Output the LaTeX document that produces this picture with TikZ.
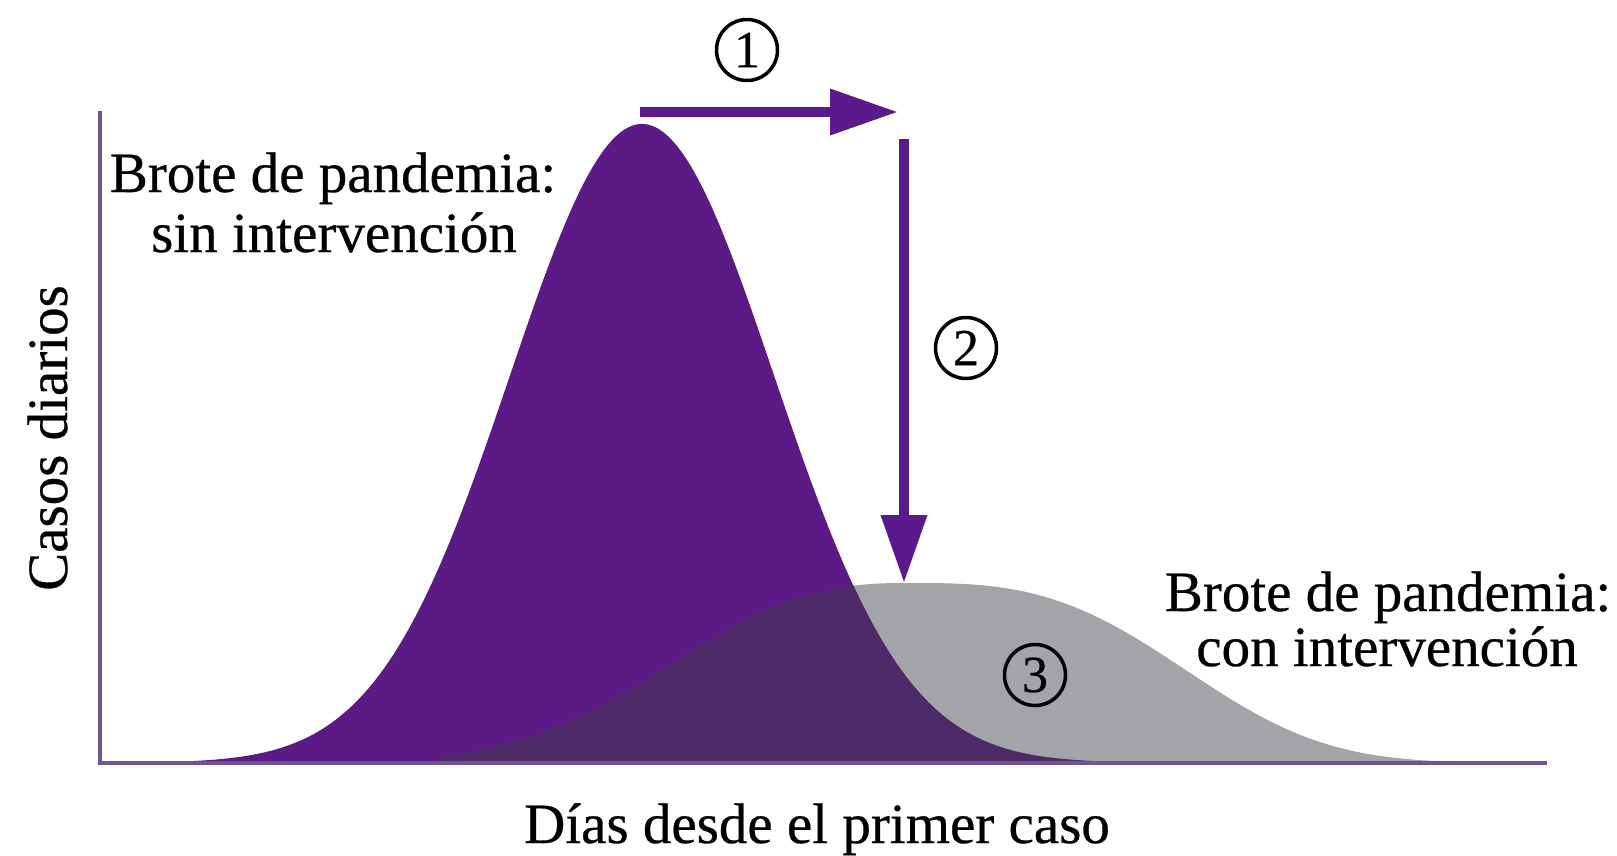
\documentclass[tikz,border=0pt]{standalone}
\usepackage{fontspec}
\setmainfont{Liberation Serif}
\newfontfamily\heavyserif{Liberation Serif}[FakeBold=0.5]
\usetikzlibrary{arrows.meta}
\definecolor{purfill}{HTML}{5B1A86}
\definecolor{purarrow}{HTML}{5A1A8C}
\definecolor{overlapc}{HTML}{4E2A68}
\definecolor{grayc}{HTML}{A2A4A8}
\definecolor{axisc}{HTML}{6E5490}
\newcommand\GrayShape{(440,763) -- plot[domain=440:907,samples=90] (\x,{763-180*exp(-((907-\x)/290)^2.5)}) -- plot[domain=907:1440,samples=90] (\x,{763-180*exp(-((\x-907)/320)^3)}) -- (1440,763) -- cycle}
\newcommand\PurpleShape{(150,763) -- plot[domain=150:1160,samples=220] (\x,{763-639*exp(-0.5*((\x-642)/132)^2)}) -- (1160,763) -- cycle}
\begin{document}
\begin{tikzpicture}[x=1pt,y=-1pt,
  lbl/.style={font=\heavyserif\fontsize{57}{60}\selectfont, text=black, inner sep=0pt},
  num/.style={circle, draw=black, line width=3.5pt, minimum size=61pt, inner sep=0pt, font=\heavyserif\fontsize{52}{52}\selectfont},
  parrow/.style={draw=purarrow, line width=10pt, -{Triangle[length=68pt,width=44pt]}},
  axisline/.style={draw=axisc, line width=4.5pt}]
\useasboundingbox (0,0) rectangle (1617,855);
\fill[white] (0,0) rectangle (1617,855);
% curves
\fill[grayc] \GrayShape;
\fill[purfill] \PurpleShape;
\begin{scope}
  \clip \GrayShape;
  \fill[overlapc] \PurpleShape;
\end{scope}
% axes
\coordinate (ytop) at (100,111);
\coordinate (origin) at (100,763);
\coordinate (xend) at (1547,763);
\draw[axisline] (ytop) -- (origin) -- (xend);
% arrows
\coordinate (peak1) at (640,112);
\coordinate (shift1) at (898,112);
\coordinate (start2) at (904,139);
\coordinate (peak2) at (904,583);
\draw[parrow] (peak1) -- (shift1);
\draw[parrow] (start2) -- (peak2);
% numbers
\node[num] (n1) at (747,50) {1};
\node[num] (n2) at (966,348) {2};
\node[num] (n3) at (1035,675) {3};
% labels
\node[lbl, anchor=base] (l1a) at (333,192) {Brote de pandemia:};
\node[lbl, anchor=base] (l1b) at (334,252) {sin intervención};
\node[lbl, anchor=base] (l2a) at (1388,611) {Brote de pandemia:};
\node[lbl, anchor=base] (l2b) at (1387,666) {con intervención};
\node[lbl, anchor=base] (xl) at (817,843) {Días desde el primer caso};
\node[lbl, anchor=base, rotate=90] (yl) at (67,438) {Casos diarios};
\end{tikzpicture}
\end{document}
